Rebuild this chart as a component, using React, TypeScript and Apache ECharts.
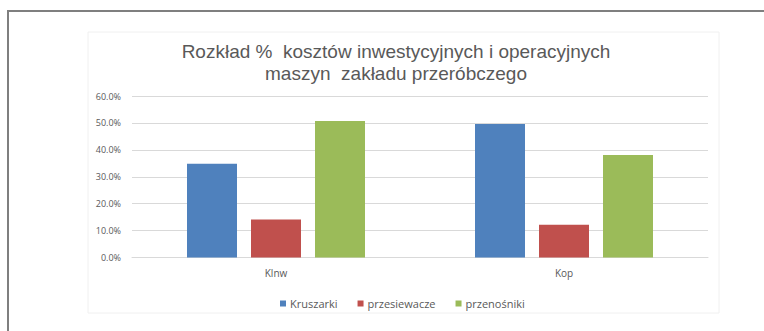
import React, { useEffect, useRef } from "react";
import * as echarts from "echarts";

const categories = ["Klnw", "Kop"];
const seriesNames = ["Kruszarki", "przesiewacze", "przenośniki"];
const kruszarki = [34.8, 49.6];
const przesiewacze = [14.1, 12.2];
const przenosniki = [50.7, 38.1];
const colors = ["#4F81BD", "#C0504D", "#9BBB59"];
const titleLines = [
  "Rozkład %  kosztów inwestycyjnych i operacyjnych",
  "maszyn  zakładu przeróbczego",
];

export default function App() {
  const ref = useRef<HTMLDivElement>(null);
  useEffect(() => {
    if (!ref.current) return;
    const chart = echarts.init(ref.current, null, { renderer: "svg" });
    const font = "Open Sans, Liberation Sans, sans-serif";
    const titleFont = "Liberation Sans, Arial, sans-serif";
    const values = [kruszarki, przesiewacze, przenosniki];
    chart.setOption({
      animation: false,
      backgroundColor: "#ffffff",
      textStyle: { fontFamily: font },
      grid: { left: 132, right: 56, top: 96, bottom: 73.5, containLabel: false },
      xAxis: {
        type: "category",
        data: categories,
        axisLine: { show: true, lineStyle: { color: "#d9d9d9" } },
        axisTick: { show: false },
        axisLabel: { color: "#595959", fontSize: 10, margin: 10, fontFamily: font },
      },
      yAxis: {
        type: "value",
        min: 0,
        max: 60,
        interval: 10,
        axisLine: { show: false },
        axisTick: { show: false },
        splitLine: { lineStyle: { color: "#d9d9d9", width: 1 } },
        axisLabel: {
          color: "#595959",
          fontSize: 9,
          margin: 11,
          fontFamily: font,
          formatter: (v: number) => v.toFixed(1) + "%",
        },
      },
      legend: {
        data: seriesNames,
        left: 275,
        top: 293,
        itemWidth: 6,
        itemHeight: 6,
        itemGap: 20,
        icon: "rect",
        textStyle: { color: "#595959", fontSize: 11, fontFamily: font, padding: [0, 0, 0, -1] },
      },
      series: seriesNames.map((name, i) => ({
        name,
        type: "bar",
        data: values[i],
        barWidth: 50,
        barGap: "28%",
        itemStyle: { color: colors[i] },
      })),
      graphic: [
        {
          type: "rect",
          shape: { x: 88, y: 32, width: 631, height: 281 },
          style: { fill: "none", stroke: "#f0f0f0", lineWidth: 1 },
          silent: true,
        },
        {
          type: "line",
          shape: { x1: 7, y1: 11, x2: 764, y2: 11 },
          style: { stroke: "#7f7f7f", lineWidth: 2 },
          silent: true,
        },
        {
          type: "line",
          shape: { x1: 8, y1: 10, x2: 8, y2: 331 },
          style: { stroke: "#7f7f7f", lineWidth: 2 },
          silent: true,
        },
        ...titleLines.map((t, i) => ({
          type: "text",
          x: 396,
          y: 51 + i * 22,
          style: {
            text: t,
            textAlign: "center",
            textVerticalAlign: "middle",
            fontSize: 19,
            fontFamily: titleFont,
            fill: "#595959",
          },
          silent: true,
        })),
      ],
    });
    return () => chart.dispose();
  }, []);
  return (
    <div
      ref={ref}
      style={{ position: "absolute", left: 0, top: 0, width: 764, height: 331 }}
    />
  );
}
